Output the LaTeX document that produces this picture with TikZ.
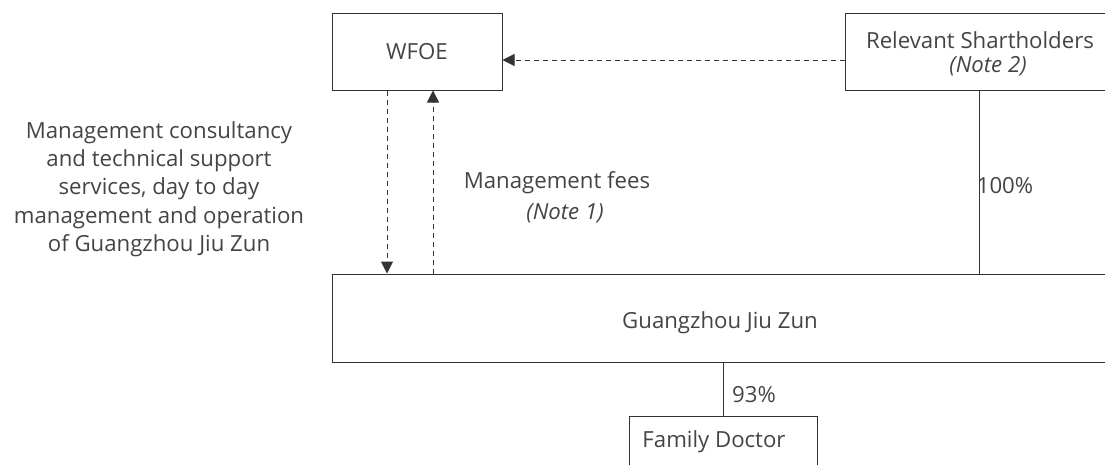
\documentclass[tikz,border=0pt]{standalone}
\usepackage{fontspec}
\setmainfont{Open Sans}
\usetikzlibrary{arrows.meta}
\definecolor{ink}{HTML}{333333}
\definecolor{txt}{HTML}{444444}
\tikzset{
  x=1pt, y=-1pt,
  box/.style={draw=ink, line width=1pt, inner sep=0pt, text=txt, align=center},
  lbl/.style={inner sep=0pt, font=\fontsize{22.2}{28}\selectfont, text=txt, align=center},
  dasharrow/.style={draw=ink, line width=1pt, dash pattern=on 5pt off 4pt, -{Triangle[length=12pt,width=12pt]}},
  own/.style={draw=ink, line width=1pt}
}
\begin{document}
\begin{tikzpicture}
\useasboundingbox (0,0) rectangle (1105,464);
\node[box, minimum width=170pt, minimum height=77pt] (wfoe) at (417,51.5) {};
\node[lbl] at (wfoe.center) {WFOE};
\node[box, minimum width=263pt, minimum height=77pt] (rs) at (976.5,51.5) {};
\node[lbl] (rst) at (980,40) {Relevant Shartholders};
\node[lbl] (rsn) at (988,66) {\itshape (Note 2)};
\node[box, minimum width=776pt, minimum height=88pt] (gjz) at (720,318) {};
\node[lbl] at (720,323) {Guangzhou Jiu Zun};
\node[box, minimum width=188pt, minimum height=54pt] (fd) at (723,443) {};
\node[lbl] at (714,442) {Family Doctor};
% connectors
\draw[dasharrow] (rs.west |- 0,60) -- (wfoe.east |- 0,60);
\draw[dasharrow] (wfoe.south -| 387,0) -- (gjz.north -| 387,0);
\draw[dasharrow] (gjz.north -| 433,0) -- (wfoe.south -| 433,0);
\draw[own] (rs.south -| 979,0) -- (gjz.north -| 979,0);
\draw[own] (gjz.south -| fd.north) -- (fd.north);
% labels
\node[lbl] (mf) at (557,183) {Management fees};
\node[lbl] (n1) at (565,213) {\itshape (Note 1)};
\node[lbl] (p100) at (1005,186) {100\%};
\node[lbl] (p93) at (754,395) {93\%};
\node[lbl, font=\fontsize{22.2}{28.3}\selectfont] (svc) at (159,189) {Management consultancy\\and technical support\\services, day to day\\management and operation\\of Guangzhou Jiu Zun};
\end{tikzpicture}
\end{document}
